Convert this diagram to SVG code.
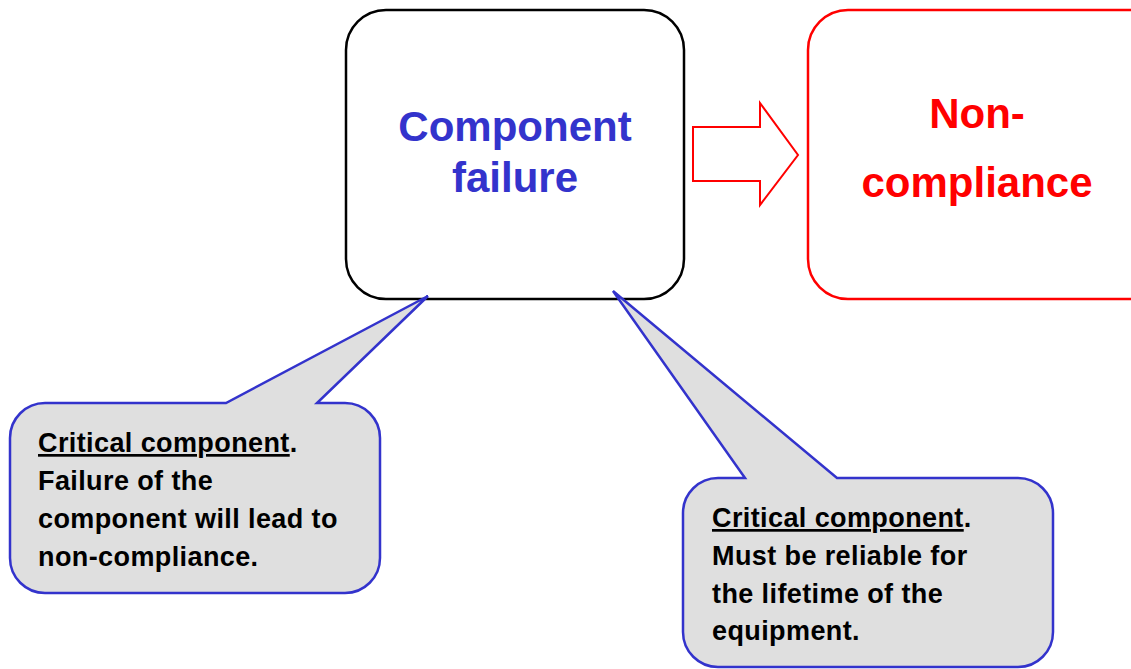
<svg xmlns="http://www.w3.org/2000/svg" width="1131" height="669" viewBox="0 0 1131 669">
<style>
.t{font-family:"Liberation Sans",Arial,sans-serif;font-weight:bold}
.big{font-size:42px;text-anchor:middle}
.small{font-size:27px;fill:#000;letter-spacing:0.4px}
.callout{fill:#DFDFDF;stroke:#3333CC;stroke-width:2.5;stroke-linejoin:miter}
</style>
<rect width="1131" height="669" fill="#fff"/>
<g id="connectors">
<path d="M693 127 H760 V103 L798 155 L760 205 V181 H693 Z" fill="#fff" stroke="#FF0000" stroke-width="2"/>
</g>
<g id="component-failure">
<rect x="346" y="10" width="338" height="289" rx="40" ry="40" fill="#fff" stroke="#000" stroke-width="2.5"/>
<text class="t big" fill="#3333CC" x="515" y="141">Component</text>
<text class="t big" fill="#3333CC" x="515" y="192">failure</text>
</g>
<g id="non-compliance">
<rect x="808" y="10" width="360" height="289" rx="40" ry="40" fill="#fff" stroke="#FF0000" stroke-width="2.5"/>
<text class="t big" fill="#FF0000" x="977" y="128">Non-</text>
<text class="t big" fill="#FF0000" x="977" y="197">compliance</text>
</g>
<g id="callout-left">
<path class="callout" d="M45 403 H226 L428 296 L317 403 H345 A35 35 0 0 1 380 438 V558 A35 35 0 0 1 345 593 H45 A35 35 0 0 1 10 558 V438 A35 35 0 0 1 45 403 Z"/>
<text class="t small" x="38" y="452"><tspan text-decoration="underline">Critical component</tspan>.</text>
<text class="t small" x="38" y="490">Failure of the</text>
<text class="t small" x="38" y="528">component will lead to</text>
<text class="t small" x="38" y="566">non-compliance.</text>
</g>
<g id="callout-right">
<path class="callout" d="M718 478 H745 L613 291 L837 478 H1018 A35 35 0 0 1 1053 513 V632 A35 35 0 0 1 1018 667 H718 A35 35 0 0 1 683 632 V513 A35 35 0 0 1 718 478 Z"/>
<text class="t small" x="712" y="527"><tspan text-decoration="underline">Critical component</tspan>.</text>
<text class="t small" x="712" y="565">Must be reliable for</text>
<text class="t small" x="712" y="603">the lifetime of the</text>
<text class="t small" x="712" y="640">equipment.</text>
</g>
</svg>
